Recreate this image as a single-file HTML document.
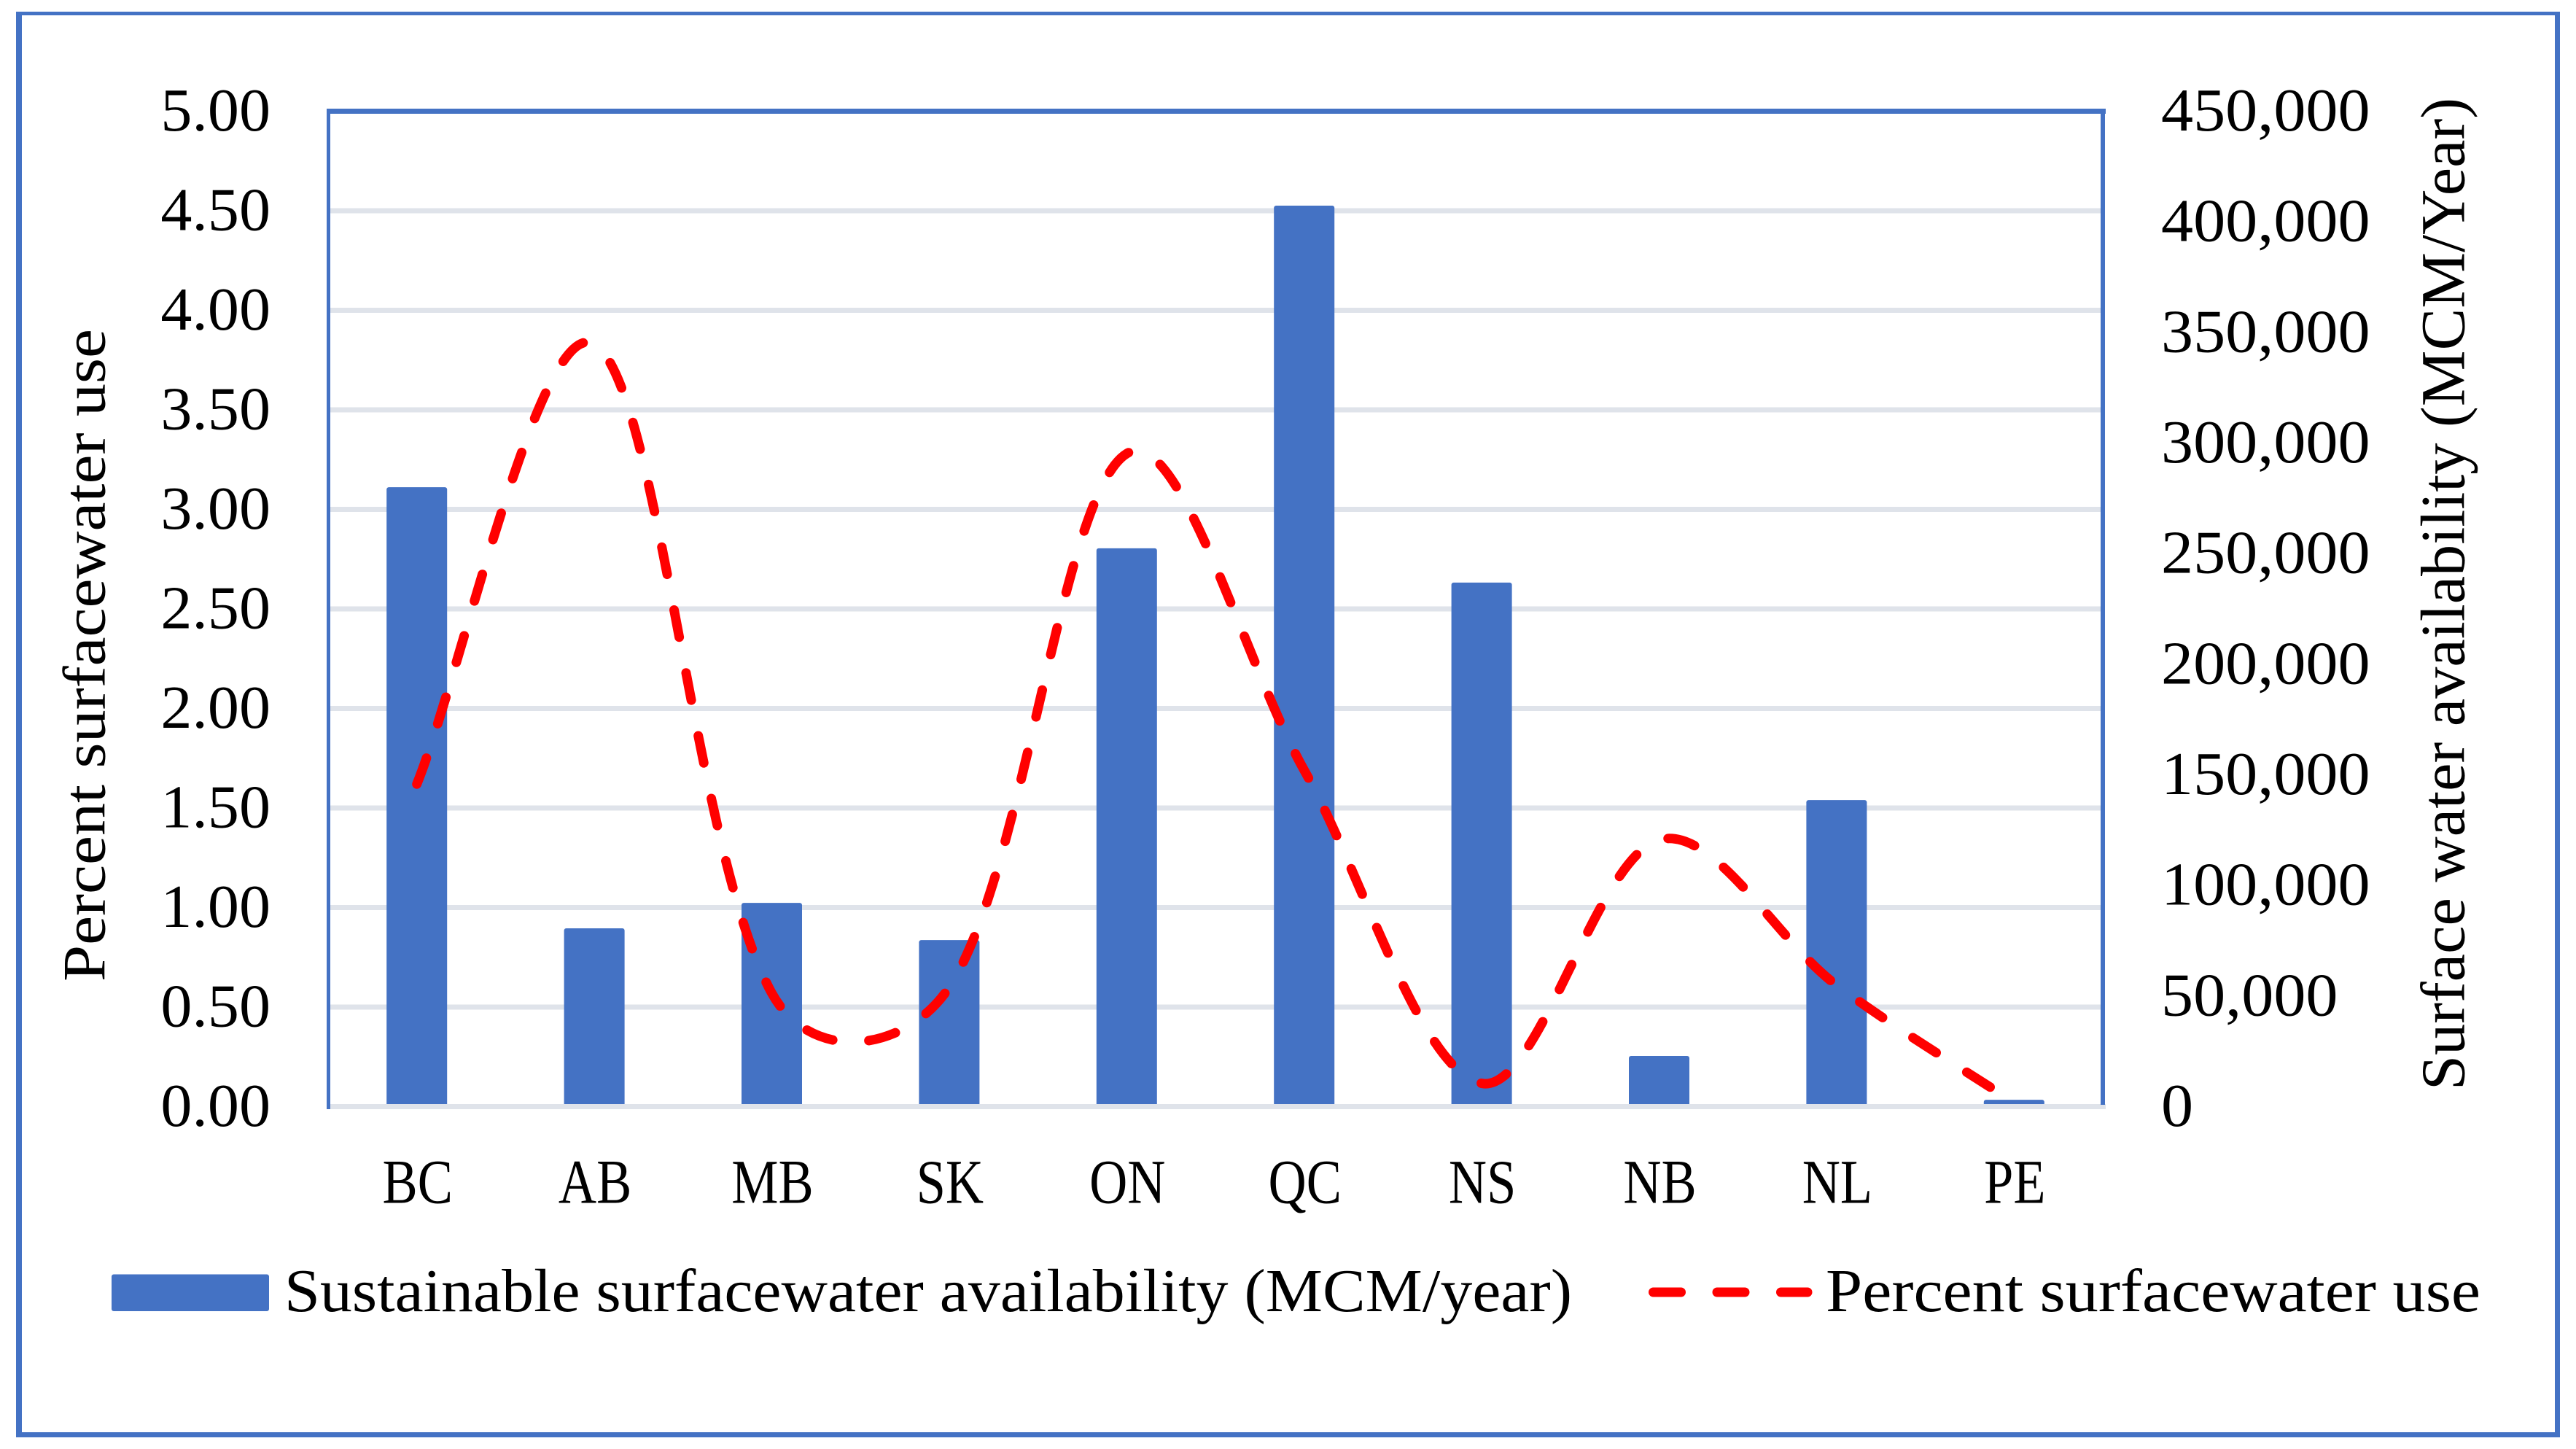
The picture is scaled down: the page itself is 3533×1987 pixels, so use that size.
<!DOCTYPE html>
<html lang="en">
<head>
<meta charset="utf-8">
<title>Surface water availability and use</title>
<style>
html,body{margin:0;padding:0;background:#fff;}
svg{display:block;}
text{font-family:"Liberation Serif",serif;fill:#000;font-size:84px;}
</style>
</head>
<body>
<svg id="chart" xmlns="http://www.w3.org/2000/svg" width="3533" height="1987" viewBox="0 0 3533 1987">
  <rect x="0" y="0" width="3533" height="1987" fill="#ffffff"/>
  <g fill="#4472c4">
    <rect x="22" y="16" width="8" height="1955"/>
    <rect x="22" y="16" width="3489" height="5"/>
    <rect x="3504" y="16" width="7" height="1955"/>
    <rect x="22" y="1964" width="3489" height="7"/>
  </g>
  <g id="grid"></g>
  <g id="bars"></g>
  <rect x="448" y="1514" width="2440" height="7" fill="#dfe3ea"/>
  <g fill="#4472c4">
    <rect x="448" y="149" width="5" height="1372"/>
    <rect x="448" y="149" width="2440" height="7"/>
    <rect x="2881" y="149" width="6" height="1366"/>
  </g>
  <path id="use-line" fill="none" stroke="#ff0000" stroke-width="13" stroke-linecap="round" stroke-linejoin="round" stroke-dasharray="38 49.8"/>
  <g id="left-ticks"></g>
  <g id="right-ticks"></g>
  <g id="cat-labels"></g>
  <text style="font-size:83px" transform="translate(143.5,1346) rotate(-90)" textLength="895" lengthAdjust="spacingAndGlyphs">Percent surfacewater use</text>
  <text style="font-size:86px" transform="translate(3379.5,1495) rotate(-90)" textLength="1361" lengthAdjust="spacingAndGlyphs">Surface water availability (MCM/Year)</text>
  <g>
    <rect x="153" y="1747.5" width="216" height="50.5" rx="3" fill="#4472c4"/>
    <text x="390" y="1798" textLength="1766" lengthAdjust="spacingAndGlyphs">Sustainable surfacewater availability (MCM/year)</text>
    <line x1="2267.5" y1="1772" x2="2479" y2="1772" stroke="#ff0000" stroke-width="13" stroke-linecap="round" stroke-dasharray="38 49.5"/>
    <text x="2504" y="1798" textLength="898" lengthAdjust="spacingAndGlyphs">Percent surfacewater use</text>
  </g>
</svg>
<script>
const categories = ["BC","AB","MB","SK","ON","QC","NS","NB","NL","PE"];
const availability = [280000,80600,92100,75300,252400,407300,236900,22900,138600,3100];
const percentUse = [1.62,3.83,0.57,0.60,3.28,1.69,0.117,1.34,0.61,0.02];
const leftTickValues = [0,0.5,1,1.5,2,2.5,3,3.5,4,4.5,5];
const leftTickLabels = ["0.00","0.50","1.00","1.50","2.00","2.50","3.00","3.50","4.00","4.50","5.00"];
const rightTickValues = [0,50000,100000,150000,200000,250000,300000,350000,400000,450000];
const rightTickLabels = ["0","50,000","100,000","150,000","200,000","250,000","300,000","350,000","400,000","450,000"];

const NS = "http://www.w3.org/2000/svg";
const plotLeft = 450, plotRight = 2884, plotTop = 152.5, plotBottom = 1517.5;
const barWidth = 83;
function xPos(i){ return plotLeft + (plotRight - plotLeft) * (i + 0.5) / categories.length; }
function yLeft(v){ return plotBottom - (plotBottom - plotTop) * v / 5; }
function yRight(v){ return plotBottom - (plotBottom - plotTop) * v / 450000; }

const gridG = document.getElementById("grid");
leftTickValues.forEach(function(v){
  if (v === 0 || v === 5) return;
  const r = document.createElementNS(NS, "rect");
  
  
  r.setAttribute("x", plotLeft);
  r.setAttribute("y", yLeft(v) - 3.5);
  r.setAttribute("width", plotRight - plotLeft);
  r.setAttribute("height", 7);
  r.setAttribute("fill", "#dfe3ea");
  gridG.appendChild(r);
});

const barsG = document.getElementById("bars");
availability.forEach(function(v, i){
  const r = document.createElementNS(NS, "rect");
  
  
  r.setAttribute("x", xPos(i) - barWidth / 2);
  r.setAttribute("y", yRight(v));
  r.setAttribute("width", barWidth);
  r.setAttribute("height", plotBottom - yRight(v));
  r.setAttribute("rx", 3);
  r.setAttribute("fill", "#4472c4");
  barsG.appendChild(r);
});

function smoothPath(pts){
  const tangentScale = function(a, b, c){
    const l1 = Math.sqrt(Math.hypot(b[0]-a[0], b[1]-a[1]));
    const l2 = Math.sqrt(Math.hypot(c[0]-b[0], c[1]-b[1]));
    return [l1 / (l1 + l2) / 3, l2 / (l1 + l2) / 3];
  };
  let d = "M" + pts[0][0] + " " + pts[0][1];
  for (let i = 0; i < pts.length - 1; i++){
    const p1 = pts[i], p2 = pts[i + 1];
    let c1 = [p1[0] + (p2[0] - p1[0]) * 0.25, p1[1] + (p2[1] - p1[1]) * 0.25];
    let c2 = [p2[0] - (p2[0] - p1[0]) * 0.25, p2[1] - (p2[1] - p1[1]) * 0.25];
    if (i > 0){
      const p0 = pts[i - 1];
      const s = tangentScale(p0, p1, p2)[1];
      c1 = [p1[0] + (p2[0] - p0[0]) * s, p1[1] + (p2[1] - p0[1]) * s];
    }
    if (i < pts.length - 2){
      const p3 = pts[i + 2];
      const s = tangentScale(p1, p2, p3)[0];
      c2 = [p2[0] - (p3[0] - p1[0]) * s, p2[1] - (p3[1] - p1[1]) * s];
    }
    d += " C" + c1[0] + " " + c1[1] + " " + c2[0] + " " + c2[1] + " " + p2[0] + " " + p2[1];
  }
  return d;
}
const linePoints = percentUse.map(function(v, i){ return [xPos(i), yLeft(v)]; });
document.getElementById("use-line").setAttribute("d", smoothPath(linePoints));

const leftG = document.getElementById("left-ticks");
leftTickValues.forEach(function(v, i){
  const t = document.createElementNS(NS, "text");
  
  
  t.setAttribute("transform", "translate(371," + (yLeft(v) + 26.5) + ") scale(1.025,1)");
  t.setAttribute("text-anchor", "end");
  t.textContent = leftTickLabels[i];
  leftG.appendChild(t);
});

const rightG = document.getElementById("right-ticks");
rightTickValues.forEach(function(v, i){
  const t = document.createElementNS(NS, "text");
  
  
  t.setAttribute("transform", "translate(2964," + (yRight(v) + 26.5) + ") scale(1.05,1)");
  t.textContent = rightTickLabels[i];
  rightG.appendChild(t);
});

const catG = document.getElementById("cat-labels");
categories.forEach(function(c, i){
  const t = document.createElementNS(NS, "text");
  
  
  t.setAttribute("transform", "translate(" + (xPos(i) + 1) + ",1649.5) scale(0.84,1)");
  t.setAttribute("text-anchor", "middle");
  t.style.fontSize = "86px";
  t.textContent = c;
  catG.appendChild(t);
});
</script>
</body>
</html>
